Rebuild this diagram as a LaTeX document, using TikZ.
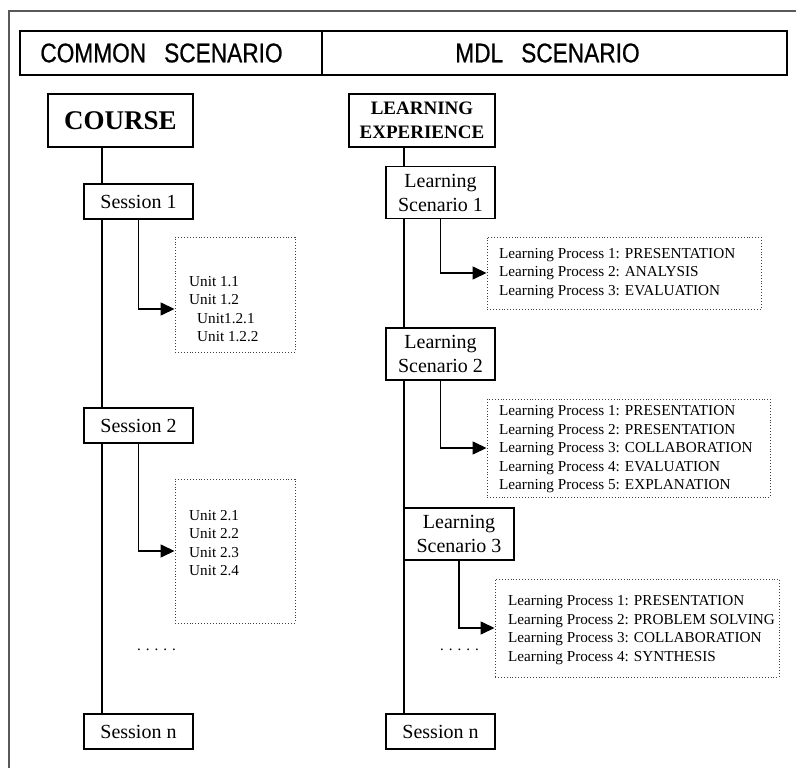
\documentclass[tikz,border=0pt]{standalone}
\usepackage{fontspec}
\setmainfont{Liberation Serif}
\newfontfamily\headfont[FakeStretch=0.84,FakeBold=0.6]{Liberation Sans}
\usetikzlibrary{arrows.meta}

\begin{document}
\begin{tikzpicture}[x=1pt,y=-1pt,
  box/.style={draw, line width=1.5pt, inner sep=0pt, fill=white},
  dotbox/.style={draw=black!75, dotted, line width=0.9pt, inner sep=0pt},
  link/.style={line width=1.5pt},
  arr/.style={line width=1.5pt, -{Triangle[length=14pt,width=13pt]}},
  sess/.style={box, minimum width=109pt, minimum height=35pt,
    font=\fontsize{20}{24}\selectfont},
  scen/.style={box, minimum width=109pt, minimum height=52pt, align=center,
    font=\fontsize{20}{24}\selectfont},
  small/.style={align=left, anchor=west, inner sep=0pt,
    font=\fontsize{15.2}{18.5}\selectfont},
  dots/.style={anchor=base west, inner sep=0pt, font=\fontsize{15}{18}\selectfont},
  head/.style={font=\headfont\fontsize{27}{30}\selectfont, inner sep=0pt},
]
\useasboundingbox (0,0) rectangle (796,768);

% outer frame (left and top edges)
\draw[black!65, line width=2pt] (9,768) -- (9,11) -- (796,11);

% header bar
\node[draw, line width=1.5pt, minimum width=767pt, minimum height=44pt,
  inner sep=0pt] (headbar) at (403.5,53) {};
\coordinate (div) at (322,53);
\draw[line width=1.8pt] (div |- headbar.north) -- (div |- headbar.south);
\node[head] (common) at (161.5,53) {COMMON\hspace{18pt}SCENARIO};
\node[head] (mdl) at (547.5,53) {MDL\hspace{18pt}SCENARIO};

% ---------- common scenario ----------
\node[box, minimum width=145pt, minimum height=53pt,
  font=\bfseries\fontsize{27}{30}\selectfont] (course) at (120.5,120.5) {COURSE};
\node[sess] (s1) at (138.5,201.5) {Session 1};
\node[sess] (s2) at (138.5,425.5) {Session 2};
\node[sess] (sn1) at (138.5,731.5) {Session n};

\node[dotbox, minimum width=120pt, minimum height=115pt] (u1) at (235,294.5) {};
\node[small] (u1t) at (189,309) {Unit 1.1\\Unit 1.2\\\hspace*{8pt}Unit1.2.1\\\hspace*{8pt}Unit 1.2.2};
\node[dotbox, minimum width=120pt, minimum height=144pt] (u2) at (235,551) {};
\node[small] (u2t) at (189,543) {Unit 2.1\\Unit 2.2\\Unit 2.3\\Unit 2.4};
\node[dots] (dl) at (137,650) {. . . . .};

\coordinate (lx) at (102,0);
\draw[link] (course.south -| lx) -- (s1.north -| lx);
\draw[link] (s1.south -| lx) -- (s2.north -| lx);
\draw[link] (s2.south -| lx) -- (sn1.north -| lx);
\draw[arr] (s1.south) |- ([yshift=-14.5pt]u1.west);
\draw[arr] (s2.south) |- (u2.west);

% ---------- MDL scenario ----------
\node[box, minimum width=146pt, minimum height=53pt, align=center,
  font=\bfseries\fontsize{19}{24}\selectfont] (exp) at (422,120.5) {LEARNING\\EXPERIENCE};
\node[scen] (ls1) at (440.5,192.5) {Learning\\Scenario 1};
\node[scen] (ls2) at (440.5,354) {Learning\\Scenario 2};
\node[scen, minimum width=110pt] (ls3) at (459,534) {Learning\\Scenario 3};
\node[sess] (sn2) at (440.5,731.5) {Session n};

\node[dotbox, minimum width=274pt, minimum height=72pt] (p1) at (624,273) {};
\node[small] (p1t) at (499,273.5) {Learning Process 1: PRESENTATION\\
  Learning Process 2: ANALYSIS\\Learning Process 3: EVALUATION};
\node[dotbox, minimum width=283pt, minimum height=98pt] (p2) at (628.5,448) {};
\node[small] (p2t) at (499,449.5) {Learning Process 1: PRESENTATION\\
  Learning Process 2: PRESENTATION\\Learning Process 3: COLLABORATION\\
  Learning Process 4: EVALUATION\\Learning Process 5: EXPLANATION};
\node[dotbox, minimum width=284pt, minimum height=98pt] (p3) at (637,628) {};
\node[small] (p3t) at (508,630) {Learning Process 1: PRESENTATION\\
  Learning Process 2: PROBLEM SOLVING\\Learning Process 3: COLLABORATION\\
  Learning Process 4: SYNTHESIS};
\node[dots] (dr) at (440,650) {. . . . .};

\coordinate (rx) at (404,0);
\draw[link] (exp.south -| rx) -- (ls1.north -| rx);
\draw[link] (ls1.south -| rx) -- (ls2.north -| rx);
\draw[link] (ls2.south -| rx) -- (sn2.north -| rx);
\draw[arr] (ls1.south) |- (p1.west);
\draw[arr] (ls2.south) |- (p2.west);
\draw[arr] (ls3.south) |- (p3.west);
\end{tikzpicture}
\end{document}
